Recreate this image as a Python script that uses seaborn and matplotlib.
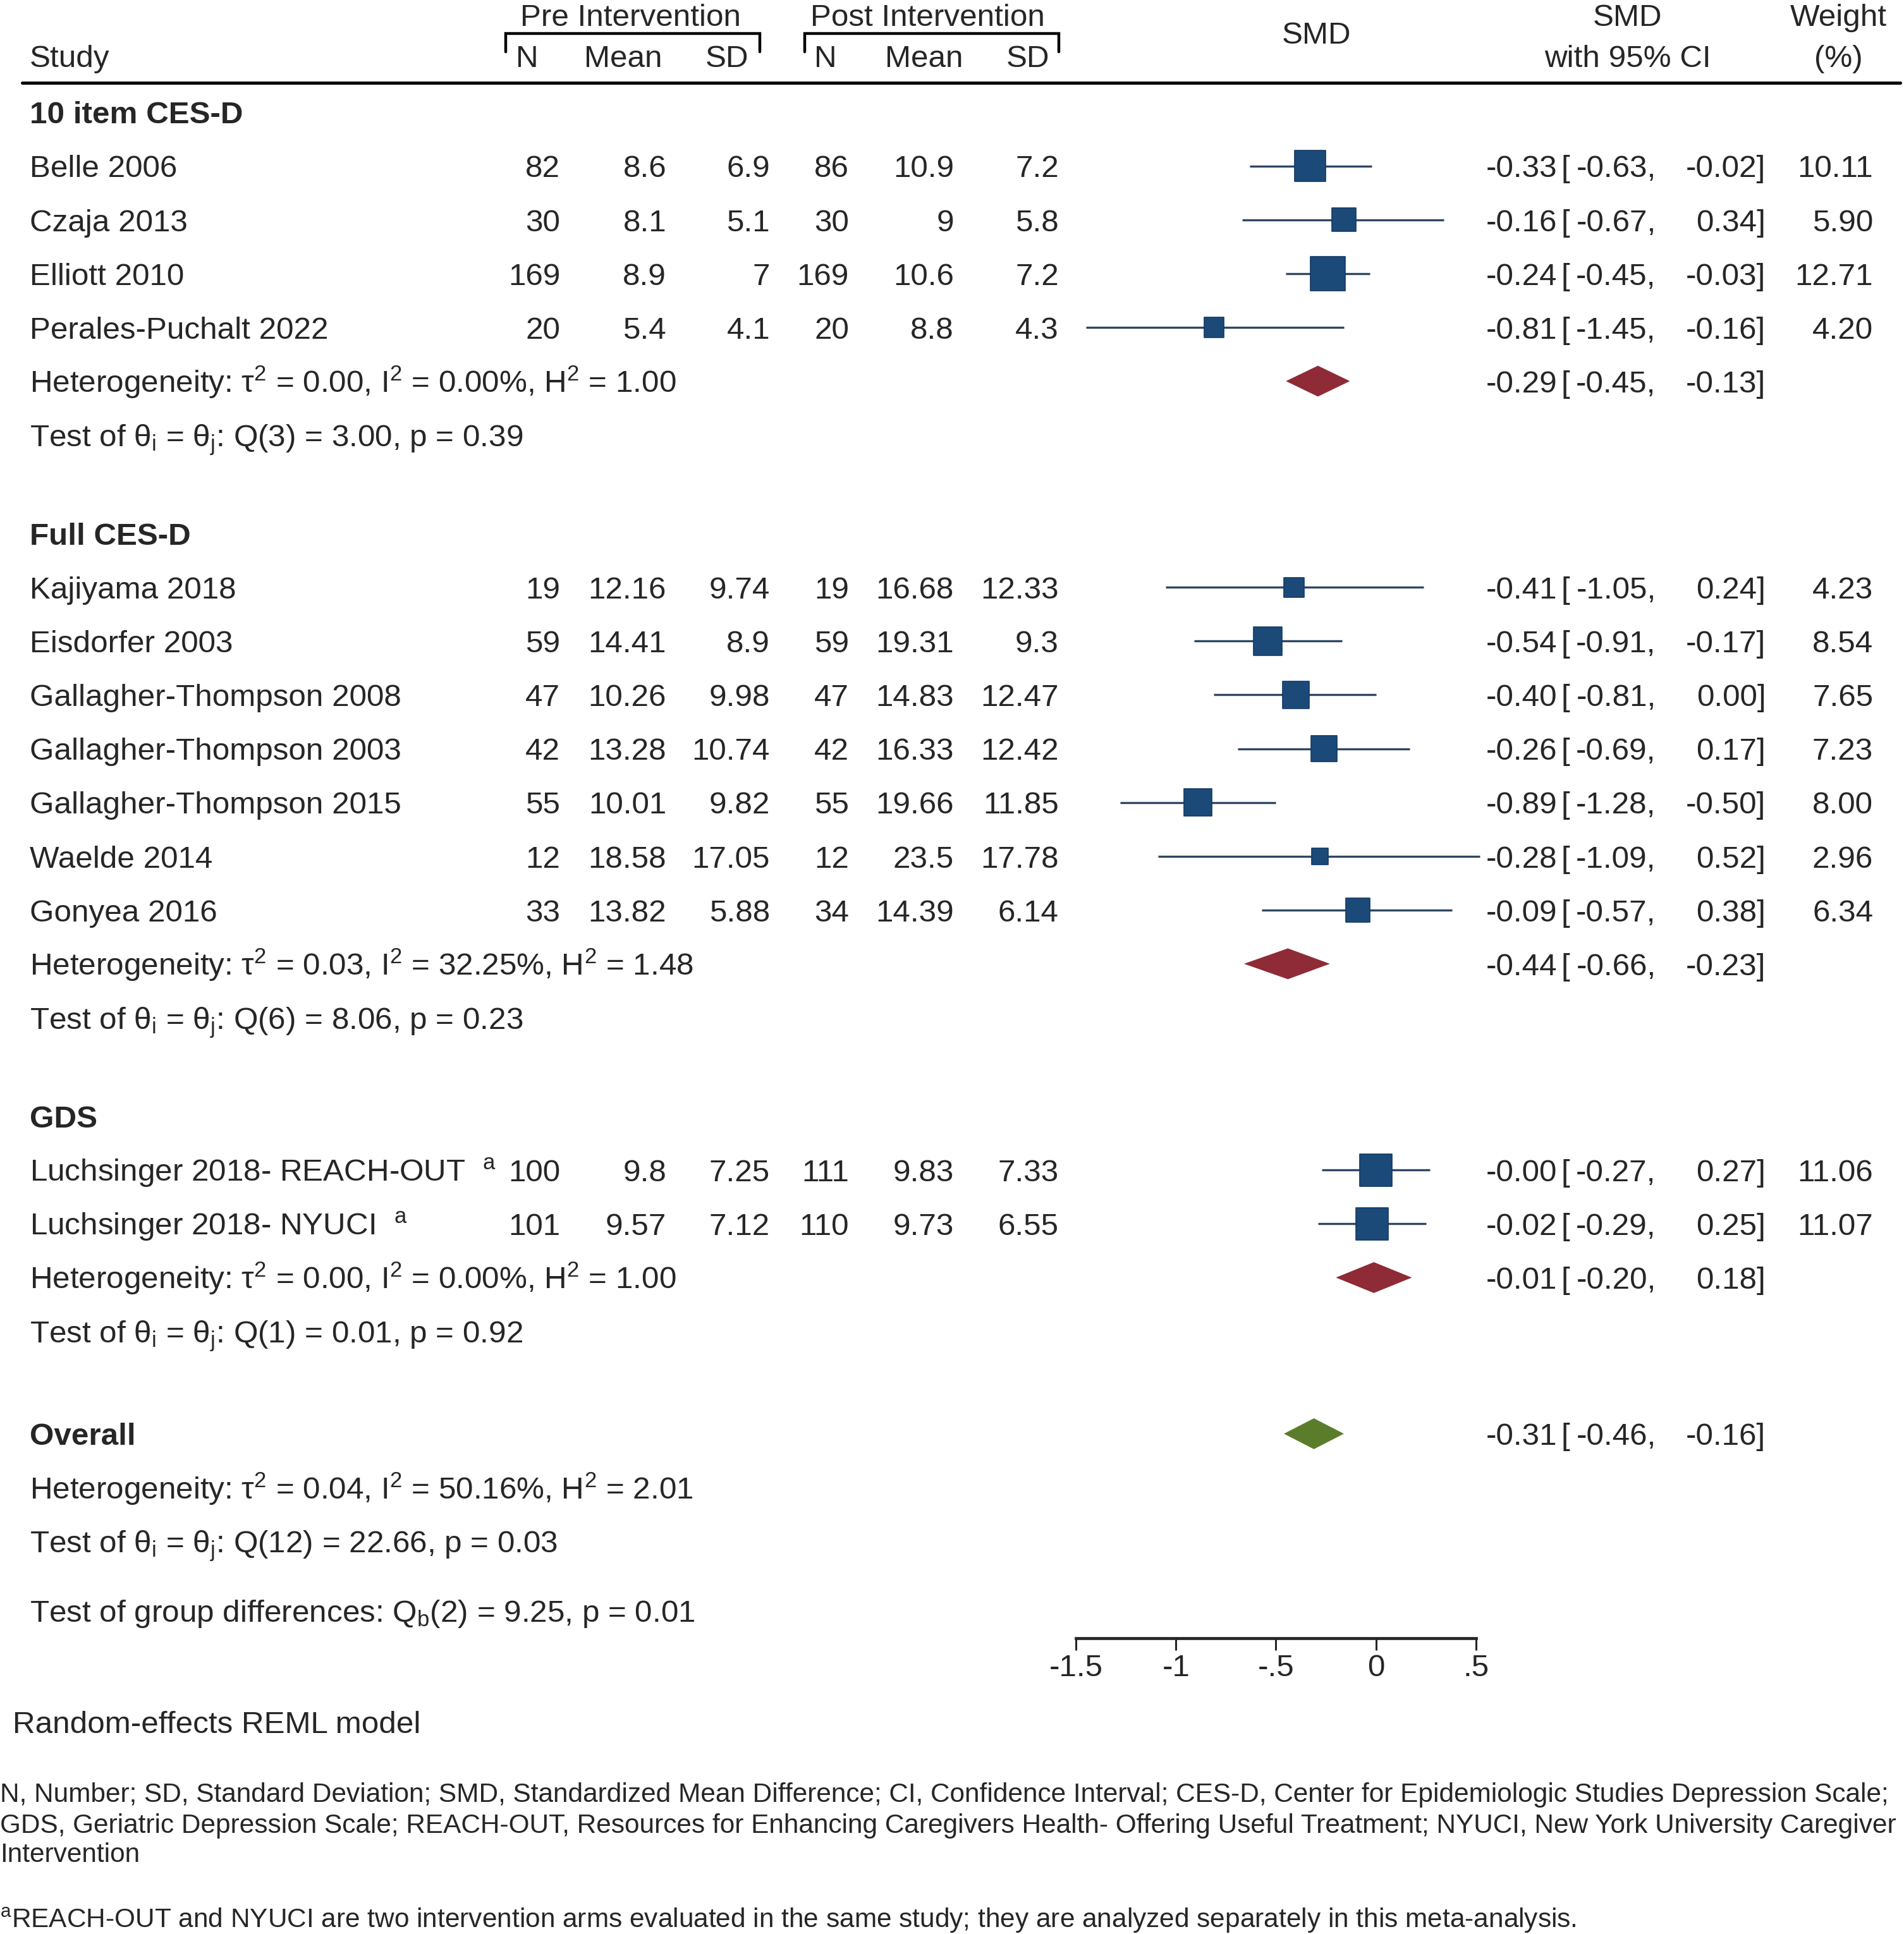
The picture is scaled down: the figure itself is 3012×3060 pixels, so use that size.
import numpy as np
import pandas as pd
import matplotlib
matplotlib.use("Agg")
import matplotlib.pyplot as plt
import seaborn as sns
from matplotlib.transforms import blended_transform_factory
from matplotlib.lines import Line2D

# ---------------- data ----------------
group_names = ["10 item CES-D", "Full CES-D", "GDS"]
group_sizes = [4, 7, 2]

study = ["Belle 2006", "Czaja 2013", "Elliott 2010", "Perales-Puchalt 2022",
         "Kajiyama 2018", "Eisdorfer 2003", "Gallagher-Thompson 2008",
         "Gallagher-Thompson 2003", "Gallagher-Thompson 2015", "Waelde 2014",
         "Gonyea 2016", "Luchsinger 2018- REACH-OUT", "Luchsinger 2018- NYUCI"]
study_note = ["", "", "", "", "", "", "", "", "", "", "", "a", "a"]

pre_n = [82, 30, 169, 20, 19, 59, 47, 42, 55, 12, 33, 100, 101]
pre_mean = [8.6, 8.1, 8.9, 5.4, 12.16, 14.41, 10.26, 13.28, 10.01, 18.58, 13.82, 9.8, 9.57]
pre_sd = [6.9, 5.1, 7, 4.1, 9.74, 8.9, 9.98, 10.74, 9.82, 17.05, 5.88, 7.25, 7.12]
post_n = [86, 30, 169, 20, 19, 59, 47, 42, 55, 12, 34, 111, 110]
post_mean = [10.9, 9, 10.6, 8.8, 16.68, 19.31, 14.83, 16.33, 19.66, 23.5, 14.39, 9.83, 9.73]
post_sd = [7.2, 5.8, 7.2, 4.3, 12.33, 9.3, 12.47, 12.42, 11.85, 17.78, 6.14, 7.33, 6.55]

smd = [-0.33, -0.16, -0.24, -0.81, -0.41, -0.54, -0.40, -0.26, -0.89, -0.28, -0.09, -0.00, -0.02]
ci_lo = [-0.63, -0.67, -0.45, -1.45, -1.05, -0.91, -0.81, -0.69, -1.28, -1.09, -0.57, -0.27, -0.29]
ci_hi = [-0.02, 0.34, -0.03, -0.16, 0.24, -0.17, 0.00, 0.17, -0.50, 0.52, 0.38, 0.27, 0.25]
weight = [10.11, 5.90, 12.71, 4.20, 4.23, 8.54, 7.65, 7.23, 8.00, 2.96, 6.34, 11.06, 11.07]

sub_smd = [-0.29, -0.44, -0.01]
sub_lo = [-0.45, -0.66, -0.20]
sub_hi = [-0.13, -0.23, 0.18]
sub_tau2 = [0.00, 0.03, 0.00]
sub_i2 = [0.00, 32.25, 0.00]
sub_h2 = [1.00, 1.48, 1.00]
sub_q_df = [3, 6, 1]
sub_q = [3.00, 8.06, 0.01]
sub_p = [0.39, 0.23, 0.92]

ov_smd, ov_lo, ov_hi = -0.31, -0.46, -0.16
ov_tau2, ov_i2, ov_h2 = 0.04, 50.16, 2.01
ov_q_df, ov_q, ov_p = 12, 22.66, 0.03
qb_df, qb, qb_p = 2, 9.25, 0.01

x_ticks = [-1.5, -1, -0.5, 0, 0.5]
x_tick_labels = ["-1.5", "-1", "-.5", "0", ".5"]

footnote_lines = [
    "N, Number; SD, Standard Deviation; SMD, Standardized Mean Difference; CI, Confidence Interval; "
    "CES-D, Center for Epidemiologic Studies Depression Scale;",
    "GDS, Geriatric Depression Scale; REACH-OUT, Resources for Enhancing Caregivers Health- Offering "
    "Useful Treatment; NYUCI, New York University Caregiver",
    "Intervention",
]
footnote_a = "REACH-OUT and NYUCI are two intervention arms evaluated in the same study; they are analyzed separately in this meta-analysis."

# ---------------- style ----------------
sns.set_style("white")
plt.rcParams['font.family'] = ['Liberation Sans', 'DejaVu Sans']
plt.rcParams['mathtext.fontset'] = 'custom'
plt.rcParams['mathtext.rm'] = 'Liberation Sans'
plt.rcParams['mathtext.it'] = 'Liberation Sans:italic'
plt.rcParams['mathtext.bf'] = 'Liberation Sans:bold'

navy = "#1b4a79"
ci_col = "#2f4762"
red = "#8e2b36"
green = "#5b7d2b"
FS = 17.8
FS_NOTE = 15.25

# layout grid (reference units, 1543 x 1568)
W, H = 1543, 1568
STEP = 43.6
PT_PER_UNIT = 0.7027
def fx(px):
    return px / W

fig = plt.figure(figsize=(15.06, 15.30), dpi=200)
x0_px, scale = 1115, 162          # SMD 0 position and px per unit
xlim = (-1.7, 0.6)
y_axis = 1328
ax = fig.add_axes([fx(x0_px + scale * xlim[0]), 1 - y_axis / H,
                   scale * (xlim[1] - xlim[0]) / W, y_axis / H])
ax.set_xlim(*xlim)
ax.set_ylim(y_axis, 0)
ax.patch.set_alpha(0)
tr = blended_transform_factory(fig.transFigure, ax.transData)

def txt(xpx, y, s, ha="left", size=FS, **kw):
    # y is the visual centre of capitals; place on baseline
    base = y + 0.36 * size / PT_PER_UNIT
    ax.text(fx(xpx), base, s, transform=tr, ha=ha, va="baseline", fontsize=size, **kw)

sup2 = r"$^{\mathregular{2}}$"

# ---------------- row positions ----------------
header_y, study_y, het_y, test_y = [], [], [], []
y = 91
for n in group_sizes:
    header_y.append(y)
    for k in range(n):
        study_y.append(y + STEP * (k + 1))
    het_y.append(y + STEP * (n + 1))
    test_y.append(y + STEP * (n + 2))
    y = y + STEP * (n + 2) + 80
ov_y = test_y[-1] + 83
ov_het_y = ov_y + STEP
ov_test_y = ov_y + 2 * STEP
qb_y = ov_test_y + 56

# ---------------- header ----------------
txt(24, 45, "Study")
txt(511, 12, "Pre Intervention", ha="center")
txt(752, 12, "Post Intervention", ha="center")
for xs, lab in zip([427, 505, 589, 669, 749, 833], ["N", "Mean", "SD", "N", "Mean", "SD"]):
    txt(xs, 45, lab, ha="center")
for a, b in [(410, 616), (652, 858)]:
    ax.plot([fx(a), fx(a), fx(b), fx(b)], [42, 27, 27, 42], transform=tr,
            color="black", lw=1.6, clip_on=False, solid_joinstyle="miter")
txt(1067, 26, "SMD", ha="center")
txt(1319, 12, "SMD", ha="center")
txt(1319, 45, "with 95% CI", ha="center")
txt(1490, 12, "Weight", ha="center")
txt(1490, 45, "(%)", ha="center")
fig.add_artist(Line2D([fx(18), fx(1540)], [1 - 67 / H] * 2, transform=fig.transFigure,
                      color="black", lw=1.8))

# ---------------- table text ----------------
def ci_text(y, e, lo, hi):
    txt(1262, y, f"{e:.2f}", ha="right")
    txt(1265, y, "[")
    txt(1342, y, f"{lo:.2f},", ha="right")
    txt(1431, y, f"{hi:.2f}]", ha="right")

for g, name in enumerate(group_names):
    txt(24, header_y[g], name, fontweight="bold")

for i in range(len(study)):
    y = study_y[i]
    label = study[i] + (f"  $^{{\\mathregular{{{study_note[i]}}}}}$" if study_note[i] else "")
    txt(24, y, label)
    txt(454, y, f"{pre_n[i]}", ha="right")
    txt(540, y, f"{pre_mean[i]:g}", ha="right")
    txt(624, y, f"{pre_sd[i]:g}", ha="right")
    txt(688, y, f"{post_n[i]}", ha="right")
    txt(773, y, f"{post_mean[i]:g}", ha="right")
    txt(858, y, f"{post_sd[i]:g}", ha="right")
    ci_text(y, smd[i], ci_lo[i], ci_hi[i])
    txt(1518, y, f"{weight[i]:.2f}", ha="right")

def het_str(t, i2, h2):
    return f"Heterogeneity: τ{sup2} = {t:.2f}, I{sup2} = {i2:.2f}%, H{sup2} = {h2:.2f}"

def test_str(df_, q, p):
    return (r"Test of θ$_{\mathregular{i}}$ = θ$_{\mathregular{j}}$: "
            + f"Q({df_}) = {q:.2f}, p = {p:.2f}")

for g in range(len(group_names)):
    txt(24, het_y[g], het_str(sub_tau2[g], sub_i2[g], sub_h2[g]))
    txt(24, test_y[g], test_str(sub_q_df[g], sub_q[g], sub_p[g]))
    ci_text(het_y[g], sub_smd[g], sub_lo[g], sub_hi[g])

txt(24, ov_y, "Overall", fontweight="bold")
ci_text(ov_y, ov_smd, ov_lo, ov_hi)
txt(24, ov_het_y, het_str(ov_tau2, ov_i2, ov_h2))
txt(24, ov_test_y, test_str(ov_q_df, ov_q, ov_p))
txt(24, qb_y, r"Test of group differences: Q$_{\mathregular{b}}$" + f"({qb_df}) = {qb:.2f}, p = {qb_p:.2f}")

# ---------------- forest marks ----------------
ax.hlines(study_y, ci_lo, ci_hi, color=ci_col, lw=1.2, zorder=2)
df = pd.DataFrame({"smd": smd, "y": study_y, "w": weight})
k_area = 30.4
sns.scatterplot(data=df, x="smd", y="y", size="w", size_norm=(0, 13),
                sizes=(0, 13 * k_area), marker="s", color=navy, edgecolor="#123a63",
                linewidth=0.6, legend=False, ax=ax, zorder=3)

half_h = 12.5
for e, lo, hi, yy, col in zip(sub_smd + [ov_smd], sub_lo + [ov_lo], sub_hi + [ov_hi],
                              het_y + [ov_y], [red, red, red, green]):
    ax.fill([lo, e, hi, e], [yy, yy - half_h, yy, yy + half_h], color=col, lw=0, zorder=3)

# ---------------- axis ----------------
sns.despine(ax=ax, left=True)
ax.spines["bottom"].set_bounds(x_ticks[0], x_ticks[-1])
ax.spines["bottom"].set_linewidth(1.7)
ax.set_yticks([])
ax.set_xticks(x_ticks)
ax.set_xticklabels(x_tick_labels)
ax.tick_params(axis="x", direction="out", length=7, width=1.1, pad=2, labelsize=FS, bottom=True)
ax.set_xlabel("")
ax.set_ylabel("")

# ---------------- notes ----------------
txt(10, 1396, "Random-effects REML model")
for yy, line in zip([1453, 1478, 1502], footnote_lines):
    txt(0, yy, line, size=FS_NOTE)
txt(0, 1555, r"$^{\mathregular{a}}$" + footnote_a, size=FS_NOTE)

fig.savefig("out.png", dpi=200, facecolor="white")
